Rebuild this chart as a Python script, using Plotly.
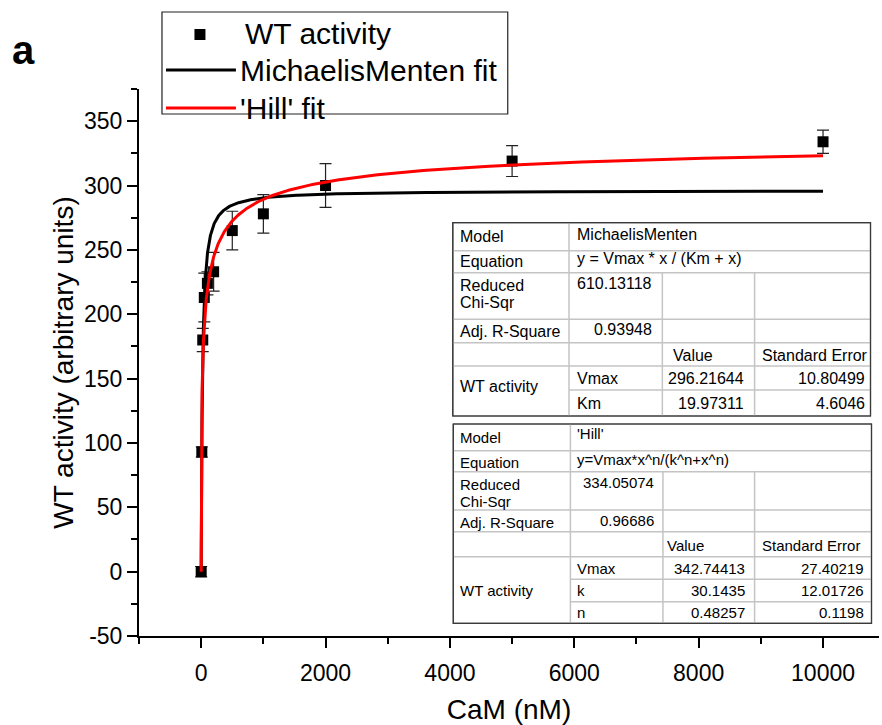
import numpy as np
import plotly.graph_objects as go

# ---------------- data ----------------
cam_nM = [0, 10, 25, 50, 100, 200, 500, 1000, 2000, 5000, 10000]
wt_activity = [0, 93, 180, 213, 224, 233, 265, 278, 300, 319, 334]
wt_error = [4, 4, 9, 19, 9, 15, 15, 15, 17, 12, 9]

# fit parameters shown in the result tables
mm_vmax, mm_km = 296.21644, 19.97311
hill_vmax, hill_k, hill_n = 342.74413, 30.1435, 0.48257

x_tick_vals = [0, 2000, 4000, 6000, 8000, 10000]
x_tick_text = ["0", "2000", "4000", "6000", "8000", "10000"]
y_tick_vals = [-50, 0, 50, 100, 150, 200, 250, 300, 350]
y_tick_text = ["-50", "0", "50", "100", "150", "200", "250", "300", "350"]

legend_labels = ["WT activity", "MichaelisMenten fit", "'Hill' fit"]

mm_table_text = [
    ["Model", "MichaelisMenten"],
    ["Equation", "y = Vmax * x / (Km + x)"],
    ["Reduced", "Chi-Sqr", "610.13118"],
    ["Adj. R-Square", "0.93948"],
    ["Value", "Standard Error"],
    ["WT activity", "Vmax", "296.21644", "10.80499"],
    ["Km", "19.97311", "4.6046"],
]
hill_table_text = [
    ["Model", "'Hill'"],
    ["Equation", "y=Vmax*x^n/(k^n+x^n)"],
    ["Reduced", "Chi-Sqr", "334.05074"],
    ["Adj. R-Square", "0.96686"],
    ["Value", "Standard Error"],
    ["WT activity", "Vmax", "342.74413", "27.40219"],
    ["k", "30.1435", "12.01726"],
    ["n", "0.48257", "0.1198"],
]

# fitted curves from the displayed fit parameters
x_fit = np.concatenate([[0.0], np.geomspace(0.01, 10000, 900)])
mm_fit = mm_vmax * x_fit / (mm_km + x_fit)
hill_fit = hill_vmax * x_fit**hill_n / (hill_k**hill_n + x_fit**hill_n)

# ---------------- geometry helpers (pixels -> paper) ----------------
W, H = 882, 725
PL, PR, PT, PB = 139, 879.5, 89, 636


def px(x):
    return (x - PL) / (PR - PL)


def py(y):
    return (PB - y) / (PB - PT)


FONT = "Arial, Liberation Sans, sans-serif"

fig = go.Figure()
fig.add_trace(go.Scatter(
    x=cam_nM, y=wt_activity, mode="markers", name=legend_labels[0],
    marker=dict(symbol="square", size=11, color="black"),
    error_y=dict(type="data", array=wt_error, visible=True,
                 color="#222222", thickness=1.2, width=6),
    showlegend=False,
))
fig.add_trace(go.Scatter(
    x=x_fit, y=mm_fit, mode="lines", name=legend_labels[1],
    line=dict(color="black", width=3), showlegend=False,
))
fig.add_trace(go.Scatter(
    x=x_fit, y=hill_fit, mode="lines", name=legend_labels[2],
    line=dict(color="#ff0000", width=3), showlegend=False,
))

shapes = []
annotations = []


def seg(x0, y0, x1, y1, color, width):
    shapes.append(dict(type="line", xref="paper", yref="paper",
                       x0=px(x0), y0=py(y0), x1=px(x1), y1=py(y1),
                       line=dict(color=color, width=width), layer="above"))


def rect(x0, y0, x1, y1, color, width, fill="white"):
    shapes.append(dict(type="rect", xref="paper", yref="paper",
                       x0=px(x0), y0=py(y0), x1=px(x1), y1=py(y1),
                       line=dict(color=color, width=width), fillcolor=fill,
                       layer="above"))


def txt(x, y, s, size, anchor="left", bold=False):
    annotations.append(dict(xref="paper", yref="paper", x=px(x), y=py(y),
                            text=("<b>%s</b>" % s) if bold else s,
                            showarrow=False, xanchor=anchor, yanchor="middle",
                            font=dict(family=FONT, size=size, color="black")))


# ---------------- manual legend ----------------
rect(162, 12, 508, 114, "#222222", 1.2)
shapes.append(dict(type="rect", xref="paper", yref="paper",
                   x0=px(194.5), y0=py(29), x1=px(205.5), y1=py(40),
                   line=dict(width=0), fillcolor="black", layer="above"))
seg(166, 70, 236, 70, "black", 3)
seg(166, 108, 236, 108, "#ff0000", 3)
txt(243, 34, legend_labels[0], 30)
txt(238, 71, legend_labels[1], 30)
txt(238, 108, legend_labels[2], 30)

# panel label
txt(10, 50, "a", 40, bold=True)

# ---------------- table 1 (Michaelis-Menten) ----------------
INNER, OUTER = "#c4c4c4", "#3a3a3a"
t1L, t1R, t1T, t1B = 453, 871, 222.7, 416
rect(t1L, t1T, t1R, t1B, OUTER, 1.2)
for yy in [250.7, 272.7, 319.3, 342.7, 366]:
    seg(t1L, yy, t1R, yy, INNER, 1.5)
seg(569.3, 390, t1R, 390, INNER, 1.5)
seg(569.3, t1T, 569.3, t1B, INNER, 1.5)
seg(662.7, 272.7, 662.7, t1B, INNER, 1.5)
seg(755, 272.7, 755, t1B, INNER, 1.5)
rect(t1L, t1T, t1R, t1B, OUTER, 1.2, fill="rgba(0,0,0,0)")
f1 = 16
r = mm_table_text
txt(458, 236, r[0][0], f1); txt(575, 234, r[0][1], f1)
txt(458, 261, r[1][0], f1); txt(575, 258, r[1][1], f1)
txt(458, 285, r[2][0], f1); txt(458, 302, r[2][1], f1); txt(654, 283, r[2][2], f1, "right")
txt(458, 331, r[3][0], f1); txt(654, 329, r[3][1], f1, "right")
txt(671, 355, r[4][0], f1); txt(760, 355, r[4][1], f1)
txt(458, 386, r[5][0], f1); txt(575, 378, r[5][1], f1)
txt(746, 378, r[5][2], f1, "right"); txt(867, 378, r[5][3], f1, "right")
txt(575, 403, r[6][0], f1); txt(746, 403, r[6][1], f1, "right"); txt(867, 403, r[6][2], f1, "right")

# ---------------- table 2 (Hill) ----------------
t2L, t2R, t2T, t2B = 453.5, 872, 424, 623.3
rect(t2L, t2T, t2R, t2B, OUTER, 1.2)
for yy in [450.7, 471.7, 510, 531.7, 556.7]:
    seg(t2L, yy, t2R, yy, INNER, 1.5)
for yy in [579.3, 601.7]:
    seg(570.7, yy, t2R, yy, INNER, 1.5)
seg(570.7, t2T, 570.7, t2B, INNER, 1.5)
seg(663.3, 471.7, 663.3, t2B, INNER, 1.5)
seg(755, 471.7, 755, t2B, INNER, 1.5)
rect(t2L, t2T, t2R, t2B, OUTER, 1.2, fill="rgba(0,0,0,0)")
f2 = 15
r = hill_table_text
txt(458, 437, r[0][0], f2); txt(575, 433, r[0][1], f2)
txt(458, 462, r[1][0], f2); txt(575, 460, r[1][1], f2)
txt(458, 484, r[2][0], f2); txt(458, 501, r[2][1], f2); txt(656, 482, r[2][2], f2, "right")
txt(458, 522, r[3][0], f2); txt(656, 520, r[3][1], f2, "right")
txt(665, 545, r[4][0], f2); txt(760, 545, r[4][1], f2)
txt(458, 590, r[5][0], f2); txt(575, 568, r[5][1], f2)
txt(747, 568, r[5][2], f2, "right"); txt(866, 568, r[5][3], f2, "right")
txt(575, 590, r[6][0], f2); txt(747, 590, r[6][1], f2, "right"); txt(866, 590, r[6][2], f2, "right")
txt(575, 612, r[7][0], f2); txt(747, 612, r[7][1], f2, "right"); txt(866, 612, r[7][2], f2, "right")

axis_common = dict(showline=True, linecolor="black", linewidth=2, mirror=False,
                   ticks="outside", ticklen=10, tickwidth=2, tickcolor="black",
                   showgrid=False, zeroline=False,
                   tickfont=dict(family=FONT, size=23, color="black"))

fig.update_layout(
    width=W, height=H,
    margin=dict(l=PL, r=W - PR, t=PT, b=H - PB, pad=0),
    paper_bgcolor="white", plot_bgcolor="white",
    showlegend=False,
    xaxis=dict(range=[-1000, 10900], tickvals=x_tick_vals, ticktext=x_tick_text,
               ticklabelstandoff=5,
               minor=dict(dtick=1000, tick0=0, ticks="outside", ticklen=6,
                          tickwidth=2, tickcolor="black"),
               title=dict(text="CaM (nM)", standoff=16,
                          font=dict(family=FONT, size=28, color="black")),
               **axis_common),
    yaxis=dict(range=[-50, 375], tickvals=y_tick_vals, ticktext=y_tick_text,
               minor=dict(dtick=25, tick0=0, ticks="outside", ticklen=6,
                          tickwidth=2, tickcolor="black"),
               title=dict(text="WT activity (arbitrary units)", standoff=2,
                          font=dict(family=FONT, size=28, color="black")),
               **axis_common),
    shapes=shapes,
    annotations=annotations,
)

fig.write_html("out.html",
               config={"displayModeBar": False},
               post_script="document.body.style.margin='0';document.body.style.padding='0';")
